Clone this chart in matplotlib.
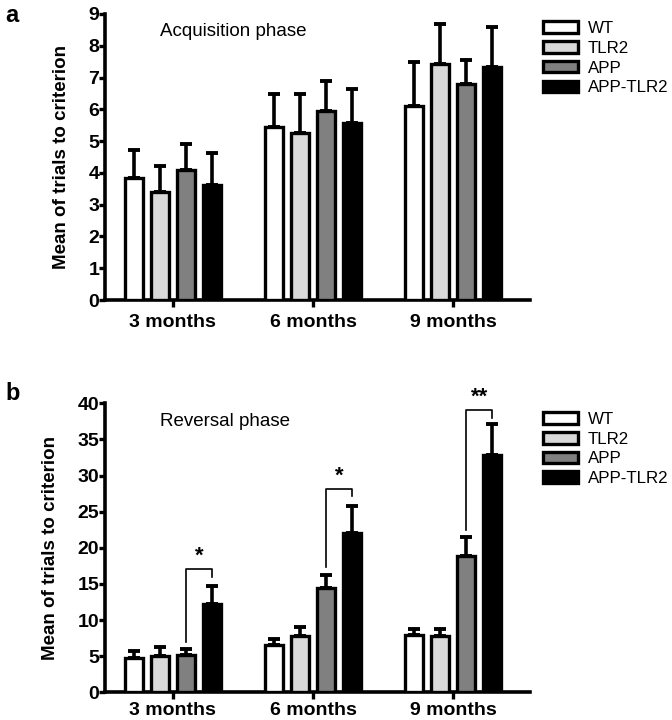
import numpy as np
import matplotlib
matplotlib.use('Agg')
import matplotlib.pyplot as plt
from matplotlib.patches import Patch

plt.rcParams['font.family'] = ['Liberation Sans', 'DejaVu Sans']

ages = ['3 months', '6 months', '9 months']
groups = ['WT', 'TLR2', 'APP', 'APP-TLR2']
colors = ['#ffffff', '#d9d9d9', '#808080', '#000000']

# acquisition phase: means and upper error (mean + sem)
acq_mean = {'WT': [3.85, 5.43, 6.10], 'TLR2': [3.39, 5.24, 7.44],
            'APP': [4.09, 5.94, 6.81], 'APP-TLR2': [3.62, 5.58, 7.32]}
acq_top = {'WT': [4.72, 6.48, 7.48], 'TLR2': [4.22, 6.48, 8.67],
           'APP': [4.90, 6.90, 7.55], 'APP-TLR2': [4.61, 6.64, 8.60]}

# reversal phase
rev_mean = {'WT': [4.79, 6.55, 7.93], 'TLR2': [5.07, 7.80, 7.80],
            'APP': [5.20, 14.39, 18.90], 'APP-TLR2': [12.18, 22.09, 32.90]}
rev_top = {'WT': [5.67, 7.42, 8.80], 'TLR2': [6.23, 9.00, 8.80],
           'APP': [5.95, 16.24, 21.54], 'APP-TLR2': [14.76, 25.83, 37.10]}

# significance brackets APP vs APP-TLR2 for reversal
sig_line = [17.1, 28.2, 39.1]
sig_left = [7.0, 17.4, 22.5]
sig_right = [15.9, 27.1, 37.9]
sig_text = ['*', '*', '**']

x = np.arange(len(ages))
step = 0.186
width = 0.125
offsets = (np.arange(len(groups)) - 1.5) * step

fig = plt.figure(figsize=(6.72, 7.2), dpi=100)
ax_a = fig.add_axes([0.156, 0.5833, 0.633, 0.3973])
ax_b = fig.add_axes([0.156, 0.0385, 0.633, 0.4014])


def draw_panel(ax, means, tops, ymax, yticks, title, leg_y, xpad):
    for g, c, off in zip(groups, colors, offsets):
        m = np.array(means[g])
        err = np.array(tops[g]) - m
        ax.bar(x + off, m, width, color=c, edgecolor='black', linewidth=2.4, zorder=3)
        ax.errorbar(x + off, m, yerr=[np.zeros_like(m), err], fmt='none',
                    ecolor='black', elinewidth=2.6, capsize=4.5, capthick=2.8, zorder=2)
    ax.set_xlim(-0.486, 2.55)
    ax.set_ylim(0, ymax)
    ax.spines['top'].set_visible(False)
    ax.spines['right'].set_visible(False)
    ax.spines['left'].set_linewidth(2.6)
    ax.spines['bottom'].set_linewidth(2.6)
    ax.set_xticks(x)
    ax.set_xticklabels(ages, fontsize=14, fontweight='bold')
    ax.set_yticks(yticks)
    ax.set_yticklabels([str(t) for t in yticks], fontsize=14, fontweight='bold')
    ax.tick_params(axis='both', width=2.4, length=5, direction='out')
    ax.tick_params(axis='y', length=4, pad=0)
    ax.tick_params(axis='x', pad=xpad)
    ax.set_ylabel('Mean of trials to criterion', fontsize=13.5, fontweight='bold', labelpad=13)
    ax.text(0.13, 0.937, title, transform=ax.transAxes, fontsize=13.5, va='center')
    handles = [Patch(facecolor=c, edgecolor='black', linewidth=2.4) for c in colors]
    ax.legend(handles, groups, loc='upper left', bbox_to_anchor=(1.03, leg_y),
              frameon=False, fontsize=12.2, handlelength=2.05, handleheight=0.67,
              labelspacing=0.28, handletextpad=0.6, borderaxespad=0, borderpad=0)


draw_panel(ax_a, acq_mean, acq_top, 9, list(range(0, 10)), 'Acquisition phase', 0.975, 5)
draw_panel(ax_b, rev_mean, rev_top, 40, list(range(0, 41, 5)), 'Reversal phase', 0.97, 2)

for i in range(len(ages)):
    xl = x[i] + offsets[2]
    xr = x[i] + offsets[3]
    ax_b.plot([xl, xl, xr, xr], [sig_left[i], sig_line[i], sig_line[i], sig_right[i]],
              color='black', linewidth=1.2, clip_on=False, zorder=4)
    ax_b.text((xl + xr) / 2, sig_line[i] + 0.3, sig_text[i], ha='center', va='bottom',
              fontsize=16, fontweight='bold', clip_on=False)

fig.text(0.008, 0.995, 'a', fontsize=17, fontweight='bold', va='top')
fig.text(0.008, 0.47, 'b', fontsize=17, fontweight='bold', va='top')

fig.savefig('out.png', dpi=100)
